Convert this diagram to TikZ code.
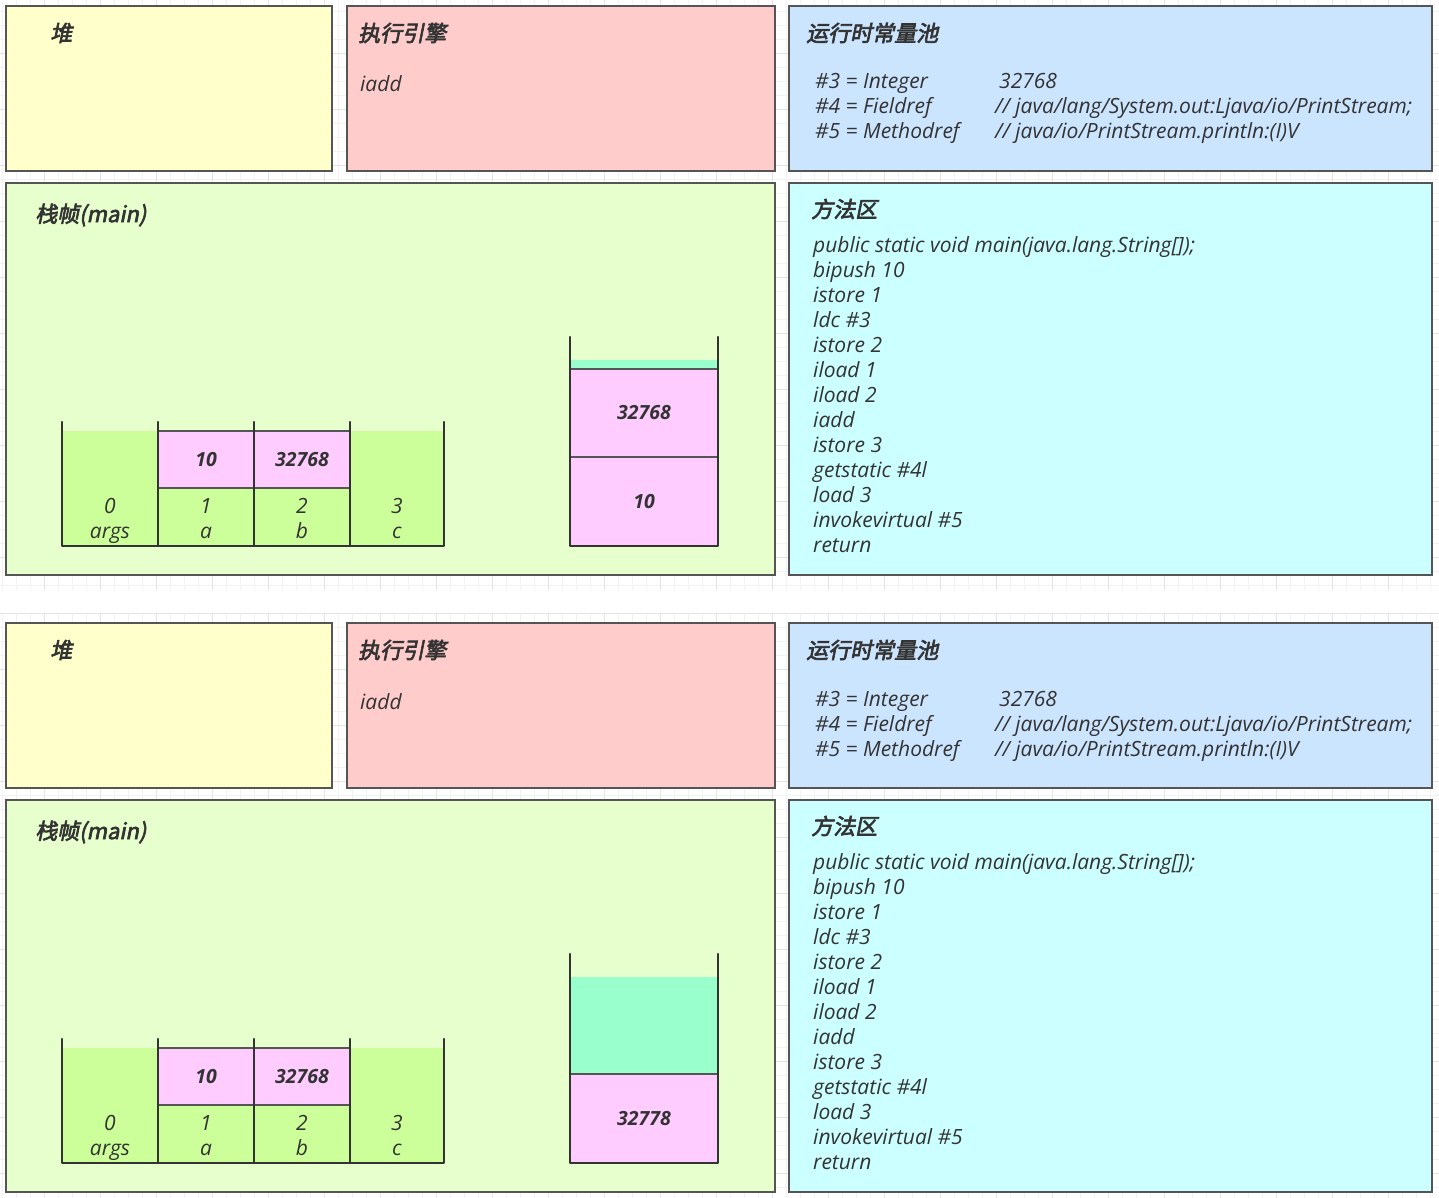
\documentclass[tikz,border=0pt]{standalone}
\usepackage{fontspec}
\setmainfont{Open Sans}
\newfontfamily\cjk[FakeSlant=0.2,FakeBold=3]{Noto Sans CJK SC}
\usepackage{tikz}
\usetikzlibrary{positioning}

\definecolor{ink}{HTML}{333333}
\definecolor{edge}{HTML}{555555}
\definecolor{heapfill}{HTML}{FFFFCC}
\definecolor{enginefill}{HTML}{FFCCCC}
\definecolor{poolfill}{HTML}{CCE5FF}
\definecolor{framefill}{HTML}{E6FFCC}
\definecolor{methodfill}{HTML}{CCFFFF}
\definecolor{slotgreen}{HTML}{CCFF99}
\definecolor{slotpink}{HTML}{FFCCFF}
\definecolor{emptyslot}{HTML}{99FFCC}
\definecolor{gridminor}{HTML}{F2F2F2}
\definecolor{gridmajor}{HTML}{E4E4E4}

% one screen of the JVM view: boxes, texts, local variable table
\newcommand{\jvmpanel}{%
	% areas
	\draw[area, fill=heapfill] (6,6) rectangle (332,171);
	\draw[area, fill=enginefill] (347,6) rectangle (775,171);
	\draw[area, fill=poolfill] (789,6) rectangle (1432,171);
	\draw[area, fill=framefill] (6,183) rectangle (775,575);
	\draw[area, fill=methodfill] (789,183) rectangle (1432,575);
	% titles
	\node[title] (heap) at (50,33) {堆};
	\node[title] (engine) at (358,33) {执行引擎};
	\node[title] (pool) at (806,33) {运行时常量池};
	\node[title] (frame) at (35,215) {栈帧(main)};
	\node[title] (method) at (811,209) {方法区};
	% execution engine
	\node[code] (instr) at (360,84) {iadd};
	% runtime constant pool
	\node[code] (c3) at (815,81) {\#3 = Integer};
	\node[code] (c3v) at (999,81) {32768};
	\node[code] (c4) at (815,106) {\#4 = Fieldref};
	\node[code] (c4v) at (995,106) {// java/lang/System.out:Ljava/io/PrintStream;};
	\node[code] (c5) at (815,131) {\#5 = Methodref};
	\node[code] (c5v) at (995,131) {// java/io/PrintStream.println:(I)V};
	% method area
	\foreach \op [count=\i from 0] in {public static void main(java.lang.String[]);,bipush 10,istore 1,ldc \#3,istore 2,iload 1,iload 2,iadd,istore 3,getstatic \#4l,load 3,invokevirtual \#5,return}
		\node[code] (op\i) at (813,{244+25*\i}) {\op};
	% local variable table
	\fill[slotgreen] (62,431) rectangle (444,546);
	\fill[slotpink] (158,431) rectangle (350,488);
	\draw[cellline] (158,431) -- (350,431) (158,488) -- (350,488);
	\node[val] (v1) at (206,460) {10};
	\node[val] (v2) at (302,460) {32768};
	\node[slot] (i0) at (110,505) {0}; \node[slot] (n0) at (110,530) {args};
	\node[slot] (i1) at (206,505) {1}; \node[slot] (n1) at (206,530) {a};
	\node[slot] (i2) at (302,505) {2}; \node[slot] (n2) at (302,530) {b};
	\node[slot] (i3) at (397,505) {3}; \node[slot] (n3) at (397,530) {c};
}

\begin{document}
\begin{tikzpicture}[x=1pt, y=-1pt]
	\tikzset{area/.style={draw=edge, line width=1.3pt}}
	\tikzset{title/.style={anchor=west, inner sep=0pt, text=ink, font=\cjk\fontsize{22}{22}\selectfont}}
	\tikzset{code/.style={anchor=west, inner sep=0pt, text height=21pt, text depth=5pt, text=ink, font=\itshape\fontsize{21}{21}\selectfont}}
	\tikzset{val/.style={inner sep=0pt, text=ink, font=\bfseries\itshape\fontsize{19.5}{19.5}\selectfont}}
	\tikzset{slot/.style={inner sep=0pt, text height=21pt, text depth=5pt, text=ink, font=\itshape\fontsize{21}{21}\selectfont}}
	\tikzset{wall/.style={draw=ink, line width=2.4pt, line cap=round, line join=round}}
	\tikzset{cellline/.style={draw=edge, line width=1.2pt}}
	\useasboundingbox (0,0) rectangle (1439,1198);
	\fill[white] (0,0) rectangle (1439,1198);
	% background grid, two screenshots
	\begin{scope}
		\clip (0,0) rectangle (1439,590) (0,613) rectangle (1439,1198);
		\draw[gridminor, line width=0.8pt, step=14pt, xshift=2.7pt, yshift=2.7pt] (-14,-14) grid (1450,1210);
		\draw[gridmajor, line width=0.8pt, step=56pt, xshift=44.7pt, yshift=2.7pt] (-60,-60) grid (1450,1210);
	\end{scope}
	% before iadd
	\begin{scope}[name prefix=pre-]
		\jvmpanel
		\fill[emptyslot] (570,360) rectangle (718,369);
		\fill[slotpink] (570,369) rectangle (718,546);
		\draw[cellline] (570,369) -- (718,369) (570,457) -- (718,457);
		\node[val] (top) at (644,413) {32768};
		\node[val] (bottom) at (644,502) {10};
		\draw[wall] (62,422) -- (62,546) -- (444,546) -- (444,422);
		\draw[wall] (158,422) -- (158,546) (254,422) -- (254,546) (350,422) -- (350,546);
		\draw[wall] (570,337) -- (570,546) -- (718,546) -- (718,337);
	\end{scope}
	% after iadd
	\begin{scope}[name prefix=post-, yshift=-617pt]
		\jvmpanel
		\fill[emptyslot] (570,360) rectangle (718,457);
		\fill[slotpink] (570,457) rectangle (718,546);
		\draw[cellline] (570,457) -- (718,457);
		\node[val] (bottom) at (644,502) {32778};
		\draw[wall] (62,422) -- (62,546) -- (444,546) -- (444,422);
		\draw[wall] (158,422) -- (158,546) (254,422) -- (254,546) (350,422) -- (350,546);
		\draw[wall] (570,337) -- (570,546) -- (718,546) -- (718,337);
	\end{scope}
\end{tikzpicture}
\end{document}
